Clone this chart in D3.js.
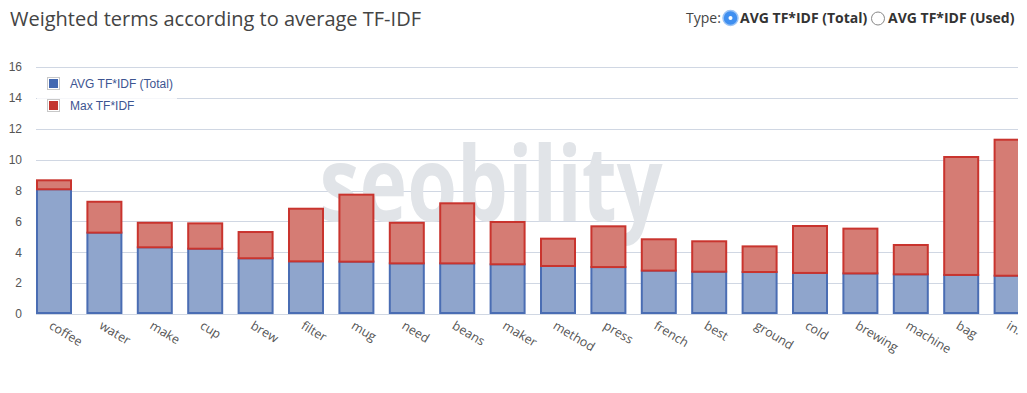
<!DOCTYPE html>
<html>
<head>
<meta charset="utf-8">
<script src="https://cdn.jsdelivr.net/npm/d3@7"></script>
<style>
  body { margin: 0; background: #fff; }
  svg { display: block; }
</style>
</head>
<body>
<svg id="chart" width="1027" height="393"></svg>
<script>
const terms = ["coffee", "water", "make", "cup", "brew", "filter", "mug", "need", "beans", "maker",
  "method", "press", "french", "best", "ground", "cold", "brewing", "machine", "bag", "in."]
const avgTotal = [8.08, 5.27, 4.32, 4.23, 3.61, 3.41, 3.39, 3.28, 3.28, 3.22,
  3.11, 3.04, 2.81, 2.74, 2.72, 2.66, 2.63, 2.57, 2.53, 2.48]
const maxTfidf = [8.66, 7.27, 5.91, 5.87, 5.31, 6.82, 7.73, 5.91, 7.17, 5.96,
  4.88, 5.68, 4.84, 4.71, 4.38, 5.70, 5.53, 4.47, 10.17, 11.29]
const yTicks = [0, 2, 4, 6, 8, 10, 12, 14, 16]

const svg = d3.select("#chart")
const plotLeft = 36, plotRight = 1018, plotTop = 67, plotBottom = 314

const x = d3.scaleBand()
  .domain(terms)
  .range([plotLeft, plotLeft + 50.4 * (terms.length - 0.2857)])
  .paddingInner(0.2857)
  .paddingOuter(0)

const y = d3.scaleLinear().domain([0, 16]).range([plotBottom, plotTop])

// Title
svg.append("text")
  .attr("x", 10).attr("y", 26)
  .attr("font-family", "Open Sans")
  .attr("font-size", 20)
  .attr("fill", "#444")
  .text("Weighted terms according to average TF-IDF")

// Type radios
const radio = svg.append("g").attr("font-family", "Open Sans").attr("font-size", 14).attr("fill", "#444")
radio.append("text").attr("x", 686).attr("y", 23).text("Type:")
radio.append("circle").attr("cx", 730.5).attr("cy", 18).attr("r", 7.5).attr("fill", "#3f8ff0").attr("stroke", "#9cc4f5").attr("stroke-width", 1.5)
radio.append("circle").attr("cx", 730.5).attr("cy", 18).attr("r", 2).attr("fill", "#fff")
radio.append("text").attr("x", 740).attr("y", 23).attr("font-weight", "bold").attr("fill", "#333").text("AVG TF*IDF (Total)")
radio.append("circle").attr("cx", 878).attr("cy", 18.5).attr("r", 6.5).attr("fill", "#fff").attr("stroke", "#888").attr("stroke-width", 1)
radio.append("text").attr("x", 888).attr("y", 23).attr("font-weight", "bold").attr("fill", "#333").text("AVG TF*IDF (Used)")

svg.append("defs").append("clipPath").attr("id", "plotclip")
  .append("rect").attr("x", 0).attr("y", 40).attr("width", plotRight).attr("height", 353)

const plot = svg.append("g").attr("clip-path", "url(#plotclip)")

// Gridlines
plot.append("g")
  .selectAll("line")
  .data(yTicks)
  .join("line")
  .attr("x1", plotLeft).attr("x2", plotRight)
  .attr("y1", d => Math.round(y(d)) + 0.5).attr("y2", d => Math.round(y(d)) + 0.5)
  .attr("stroke", "#d0d7e3")
  .attr("stroke-width", 1)

// Y axis labels
const yAxis = d3.axisLeft(y).tickValues(yTicks).tickSize(0).tickPadding(0)
svg.append("g")
  .attr("transform", `translate(22,0)`)
  .call(yAxis)
  .call(g => g.select(".domain").remove())
  .call(g => g.selectAll("text")
    .attr("font-family", "Liberation Sans")
    .attr("font-size", 12)
    .attr("fill", "#555"))

// Watermark
plot.append("text")
  .attr("x", 491).attr("y", 221)
  .attr("text-anchor", "middle")
  .attr("font-family", "Open Sans")
  .attr("font-weight", "bold")
  .attr("font-size", 104)
  .attr("textLength", 343)
  .attr("lengthAdjust", "spacingAndGlyphs")
  .attr("fill", "#e1e4e8")
  .text("seobility")

// Bars
const rows = terms.map((t, i) => ({ term: t, avg: avgTotal[i], max: maxTfidf[i] }))
const bars = plot.append("g")

bars.selectAll("rect.avg")
  .data(rows)
  .join("rect")
  .attr("class", "avg")
  .attr("x", d => x(d.term) + 1)
  .attr("width", x.bandwidth() - 2)
  .attr("y", d => y(d.avg))
  .attr("height", d => y(0) - y(d.avg) - 1)
  .attr("fill", "#8fa5cc")
  .attr("stroke", "#4a6db3")
  .attr("stroke-width", 2)

bars.selectAll("rect.max")
  .data(rows)
  .join("rect")
  .attr("class", "max")
  .attr("x", d => x(d.term) + 1)
  .attr("width", x.bandwidth() - 2)
  .attr("y", d => y(d.max))
  .attr("height", d => y(d.avg) - y(d.max))
  .attr("fill", "#d57c74")
  .attr("stroke", "#c9342e")
  .attr("stroke-width", 2)

// X labels
svg.append("g")
  .selectAll("text")
  .data(terms)
  .join("text")
  .attr("transform", d => `translate(${x(d) + x.bandwidth() / 2 - 1},${plotBottom + 6}) rotate(31)`)
  .attr("dy", "0.75em")
  .attr("font-family", "Open Sans")
  .attr("font-size", 12.5)
  .attr("fill", "#555")
  .text(d => d)

// Legend
const legend = svg.append("g")
legend.append("rect")
  .attr("x", 37).attr("y", 70).attr("width", 140).attr("height", 45)
  .attr("fill", "#fff").attr("opacity", 0.8)
const legendItems = [
  { label: "AVG TF*IDF (Total)", color: "#4368b1" },
  { label: "Max TF*IDF", color: "#c3342e" }
]
const li = legend.selectAll("g.item")
  .data(legendItems)
  .join("g")
  .attr("class", "item")
  .attr("transform", (d, i) => `translate(47,${77 + i * 22})`)
li.append("rect")
  .attr("x", 0.5).attr("y", 0.5).attr("width", 12).attr("height", 12)
  .attr("fill", "#fff").attr("stroke", "#c8c8c8")
li.append("rect")
  .attr("x", 2).attr("y", 2).attr("width", 9).attr("height", 9)
  .attr("fill", d => d.color)
li.append("text")
  .attr("x", 23).attr("y", 10.5)
  .attr("font-family", "Liberation Sans")
  .attr("font-size", 12)
  .attr("fill", "#3d5591")
  .text(d => d.label)
</script>
</body>
</html>
